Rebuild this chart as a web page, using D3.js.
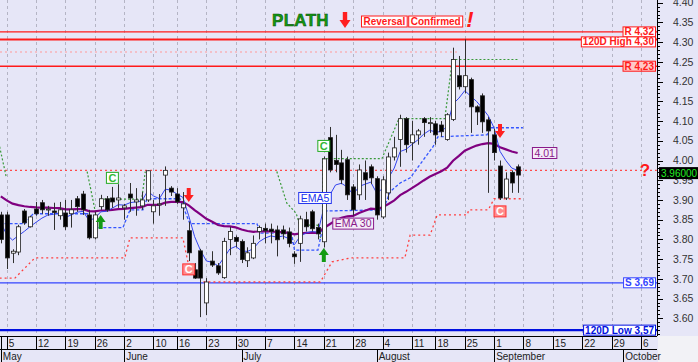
<!DOCTYPE html>
<html>
<head>
<meta charset="utf-8">
<script src="https://cdn.jsdelivr.net/npm/d3@7"></script>
<style>
  body { margin: 0; background: #e6e6f7; }
  svg { display: block; font-family: "Liberation Sans", Arial, sans-serif; }
</style>
</head>
<body>
<svg id="chart" width="698" height="362"></svg>
<script>
// ---- data ----
const firstDay = "2014-05-02";
const lastDay = "2014-10-10";
const holidays = ["2014-06-09", "2014-08-15"];

// daily candles from 2 May 2014 to 5 Sept 2014
const opens = [3.862, 3.862, 3.765, 3.768, 3.872, 3.832, 3.877, 3.893, 3.875, 3.872,
  3.860, 3.867, 3.865, 3.903, 3.915, 3.862, 3.804, 3.883, 3.903, 3.905,
  3.900, 3.880, 3.915, 3.895, 3.885, 3.900, 3.870, 3.890, 3.963, 3.930,
  3.915, 3.880, 3.822, 3.723, 3.771, 3.639, 3.745, 3.733, 3.703, 3.800,
  3.805, 3.795, 3.746, 3.753, 3.820, 3.828, 3.826, 3.824, 3.824, 3.819,
  3.763, 3.790, 3.850, 3.870, 3.830, 3.794, 4.058, 4.000, 3.994, 4.002,
  3.933, 3.913, 3.969, 3.984, 3.954, 3.857, 3.918, 4.009, 4.053, 4.106,
  4.045, 4.065, 4.106, 4.095, 4.093, 4.090, 4.053, 4.104, 4.215, 4.187,
  4.205, 4.136, 4.164, 4.103, 4.065, 3.986, 3.905, 3.970, 3.984];
const highs = [3.870, 3.870, 3.775, 3.837, 3.877, 3.860, 3.895, 3.900, 3.885, 3.893,
  3.895, 3.900, 3.900, 3.910, 3.923, 3.875, 3.870, 3.913, 3.910, 3.933,
  3.940, 3.890, 3.943, 3.930, 3.920, 3.975, 3.900, 3.915, 3.985, 3.935,
  3.930, 3.920, 3.845, 3.740, 3.776, 3.702, 3.770, 3.740, 3.804, 3.832,
  3.810, 3.800, 3.780, 3.810, 3.835, 3.840, 3.840, 3.835, 3.835, 3.830,
  3.770, 3.860, 3.870, 3.875, 3.840, 4.010, 4.085, 4.065, 4.027, 4.010,
  3.940, 3.990, 4.000, 3.990, 3.960, 3.960, 4.020, 4.060, 4.116, 4.110,
  4.100, 4.080, 4.110, 4.110, 4.100, 4.100, 4.120, 4.286, 4.265, 4.307,
  4.210, 4.140, 4.170, 4.110, 4.080, 4.000, 3.970, 3.975, 3.990];
const lows = [3.790, 3.725, 3.740, 3.760, 3.837, 3.830, 3.860, 3.865, 3.860, 3.824,
  3.850, 3.824, 3.830, 3.870, 3.862, 3.800, 3.800, 3.875, 3.870, 3.880,
  3.880, 3.850, 3.870, 3.860, 3.875, 3.895, 3.840, 3.860, 3.885, 3.910,
  3.890, 3.850, 3.745, 3.700, 3.603, 3.608, 3.730, 3.710, 3.700, 3.760,
  3.780, 3.740, 3.730, 3.750, 3.800, 3.790, 3.790, 3.757, 3.800, 3.780,
  3.738, 3.743, 3.820, 3.820, 3.800, 3.780, 3.970, 3.970, 3.940, 3.900,
  3.860, 3.900, 3.900, 3.940, 3.850, 3.852, 3.900, 4.000, 3.984, 4.020,
  4.000, 4.040, 4.060, 4.070, 4.040, 4.060, 4.050, 4.100, 4.180, 4.170,
  4.070, 4.090, 4.070, 3.918, 4.000, 3.900, 3.900, 3.918, 3.918];
const closes = [3.800, 3.753, 3.770, 3.832, 3.842, 3.857, 3.865, 3.875, 3.877, 3.868,
  3.875, 3.832, 3.875, 3.883, 3.875, 3.804, 3.862, 3.903, 3.875, 3.895,
  3.905, 3.885, 3.905, 3.900, 3.900, 3.974, 3.885, 3.890, 3.975, 3.920,
  3.895, 3.890, 3.766, 3.702, 3.702, 3.692, 3.735, 3.715, 3.795, 3.820,
  3.795, 3.749, 3.766, 3.790, 3.830, 3.822, 3.820, 3.799, 3.814, 3.790,
  3.756, 3.852, 3.832, 3.827, 3.814, 4.004, 3.976, 3.990, 3.951, 3.913,
  3.875, 3.976, 3.951, 3.956, 3.862, 3.951, 4.009, 4.032, 4.106, 4.040,
  4.065, 4.075, 4.096, 4.096, 4.065, 4.073, 4.116, 4.256, 4.187, 4.215,
  4.136, 4.123, 4.098, 4.075, 4.020, 3.905, 3.953, 3.943, 3.963];

// moving averages: periods and the values they show on the first day
const emaPeriods = [5, 30];
const emaStart = [3.842, 3.909];

// stop lines as [day index, price] vertices, several segments each
const blueStop = [[[-0.2, 3.840], [4.1, 3.840], [5.5, 3.865], [14.8, 3.865], [15.2, 3.830],
  [20.8, 3.830], [22.0, 3.875], [24.2, 3.875], [24.9, 3.903], [30.5, 3.903], [32.2, 3.840],
  [43.6, 3.840], [44.3, 3.816], [49.5, 3.816], [50.0, 3.773], [54.0, 3.773], [55.4, 3.872],
  [65.1, 3.875], [66.3, 3.921], [68.0, 3.943], [69.7, 3.956], [73.6, 4.035], [74.4, 4.060],
  [82.8, 4.065], [83.3, 4.083], [88.9, 4.083]]];
const redStop = [
  [[-0.2, 3.702], [2.4, 3.702], [5.8, 3.753], [21.1, 3.753], [22.0, 3.804], [31.0, 3.804], [31.9, 3.740]],
  [[34.5, 3.692], [54.4, 3.692], [56.4, 3.743], [59.5, 3.753], [68.8, 3.753], [69.7, 3.811],
   [73.1, 3.811], [74.3, 3.862], [79.4, 3.862], [79.7, 3.875], [83.0, 3.875], [84.0, 3.903], [88.9, 3.903]]];
const greenStop = [
  [[-0.2, 4.035], [0.9, 3.960]],
  [[14.7, 3.972], [16.3, 3.855]],
  [[16.9, 3.902], [24.0, 3.902], [24.6, 3.972]],
  [[47.0, 3.972], [48.7, 3.892], [50.3, 3.866], [50.9, 3.836], [53.9, 3.836], [54.5, 3.800]],
  [[54.8, 3.800], [54.8, 4.005], [64.9, 4.005], [67.8, 4.106], [75.6, 4.106], [76.9, 4.256], [88.1, 4.256]]];

// horizontal levels
const levelValues = [4.326, 4.307, 4.239, 3.690, 3.570];
const levelLabels = ["R 4,32", "120D High 4,30", "R 4,23", "S 3,69", "120D Low 3,57"];
const levelKinds = ["res", "high", "resFill", "sup", "low"];
const guideValues = [3.975, 4.275];
const guideEnd = [111.7, 78.2];

// signals
const upArrowIdx = [17, 55];
const upArrowTip = [3.862, 3.778];
const downArrowIdx = [32, 85];
const downArrowTip = [3.895, 4.057];
const confirmIdx = [19, 55, 32, 85];
const confirmPrice = [3.956, 4.037, 3.724, 3.871];
const confirmKind = ["buy", "buy", "sell", "sell"];

// tags
const tagTexts = ["EMA5", "EMA 30", "4.01"];
const tagIdx = [53.5, 60, 92.6];
const tagPrice = [3.905, 3.840, 4.019];
const tagKind = ["ema5", "ema30", "ema30"];

const lastPriceText = "3.96000";
const monthNames = ["January", "February", "March", "April", "May", "June", "July",
  "August", "September", "October", "November", "December"];

// ---- layout ----
const W = 698, H = 362;
const plotW = 657, plotH = 336;
const step = 5.873, firstX = 0.8;

const fmt = d3.timeFormat("%Y-%m-%d");
const parse = d3.timeParse("%Y-%m-%d");
const days = d3.timeDay.range(parse(firstDay), d3.timeDay.offset(parse(lastDay), 1))
  .filter((d) => d.getDay() !== 0 && d.getDay() !== 6 && !holidays.includes(fmt(d)));

const x = d3.scaleLinear()
  .domain([-firstX / step, (plotW - firstX) / step])
  .range([0, plotW]);
const y = d3.scaleLinear().domain([3.6, 4.4]).range([318.3, 2.7]);

const svg = d3.select("#chart");
svg.append("rect").attr("width", W).attr("height", H).attr("fill", "#e6e6f7");

// week and month boundaries
const weekIdx = [], monthIdx = [];
days.forEach((d, i) => {
  const p = days[i - 1];
  if (p && (d.getDay() < p.getDay() || d3.timeDay.count(p, d) > 6)) weekIdx.push(i);
  if (!p || d.getMonth() !== p.getMonth()) monthIdx.push(i);
});

// grid
svg.append("g")
  .selectAll("line")
  .data(weekIdx)
  .join("line")
  .attr("x1", (d) => Math.round(x(d)) + 0.5).attr("x2", (d) => Math.round(x(d)) + 0.5)
  .attr("y1", 0).attr("y2", plotH)
  .attr("stroke", "#b4b4c4")
  .attr("stroke-dasharray", "3,3");

const plot = svg.append("g");

// guide lines
plot.selectAll("line.guide")
  .data(guideValues)
  .join("line")
  .attr("class", "guide")
  .attr("x1", 0).attr("x2", (d, i) => Math.min(plotW, x(guideEnd[i])))
  .attr("y1", (d) => y(d)).attr("y2", (d) => y(d))
  .attr("stroke", (d, i) => (i === 0 ? "#ff4a4a" : "#ff9a9a"))
  .attr("stroke-width", 1.2)
  .attr("stroke-dasharray", "2,3");

// levels
const levelStyle = {
  res: { color: "#ff1a1a", width: 1.2, fill: "#fff" },
  high: { color: "#ff1a1a", width: 2, fill: "#fff" },
  resFill: { color: "#ff1a1a", width: 1.6, fill: "#ffc8c8" },
  sup: { color: "#3344ff", width: 1.2, fill: "#fff" },
  low: { color: "#0010e0", width: 2.4, fill: "#fff" },
};
plot.selectAll("line.level")
  .data(levelValues)
  .join("line")
  .attr("class", "level")
  .attr("x1", 0).attr("x2", plotW)
  .attr("y1", (d) => y(d)).attr("y2", (d) => y(d))
  .attr("stroke", (d, i) => levelStyle[levelKinds[i]].color)
  .attr("stroke-width", (d, i) => levelStyle[levelKinds[i]].width);

// stop lines
const line = d3.line().x((d) => x(d[0])).y((d) => y(d[1]));
function drawStops(segments, color, dash, width) {
  plot.append("g")
    .selectAll("path")
    .data(segments)
    .join("path")
    .attr("d", line)
    .attr("fill", "none")
    .attr("stroke", color)
    .attr("stroke-width", width)
    .attr("stroke-dasharray", dash);
}
drawStops(redStop, "#ff4040", "2,3", 1.3);
drawStops(greenStop, "#3a9a3a", "2,2", 1.2);
drawStops(blueStop, "#3355ff", "3,2", 1.3);

// moving averages
function ema(values, period, seed) {
  const k = 2 / (period + 1);
  let prev;
  return values.map((v, i) => {
    prev = i === 0 ? seed : prev + k * (v - prev);
    return prev;
  });
}
const emaLines = emaPeriods.map((p, j) => ema(closes, p, emaStart[j]));
const emaLine = d3.line().x((d, i) => x(i)).y((d) => y(d));
plot.append("path")
  .attr("d", emaLine(emaLines[1]))
  .attr("fill", "none")
  .attr("stroke", "#800080")
  .attr("stroke-width", 2.2);
plot.append("path")
  .attr("d", emaLine(emaLines[0]))
  .attr("fill", "none")
  .attr("stroke", "#3344ee")
  .attr("stroke-width", 1);

// candles
const candles = closes.map((c, i) => ({ i, o: opens[i], h: highs[i], l: lows[i], c }));
const cg = plot.append("g")
  .selectAll("g")
  .data(candles)
  .join("g");
cg.append("line")
  .attr("x1", (d) => Math.round(x(d.i)) + 0.5).attr("x2", (d) => Math.round(x(d.i)) + 0.5)
  .attr("y1", (d) => y(d.h)).attr("y2", (d) => y(d.l))
  .attr("stroke", "#303030");
cg.append("rect")
  .attr("x", (d) => Math.round(x(d.i)) - 1.5)
  .attr("width", 4)
  .attr("y", (d) => y(Math.max(d.o, d.c)))
  .attr("height", (d) => Math.max(1, Math.abs(y(d.o) - y(d.c))))
  .attr("fill", (d) => (d.c >= d.o ? "#fff" : "#000"))
  .attr("stroke", "#202020")
  .attr("stroke-width", 0.8);

// arrows
function arrowPath(cx, tipY, dir, w, h) {
  const hh = h * 0.5, sw = w * 0.2;
  const b = tipY + dir * h, m = tipY + dir * hh;
  return `M${cx},${tipY}L${cx + w / 2},${m}L${cx + sw},${m}L${cx + sw},${b}` +
    `L${cx - sw},${b}L${cx - sw},${m}L${cx - w / 2},${m}Z`;
}
plot.append("g")
  .selectAll("path")
  .data(upArrowIdx)
  .join("path")
  .attr("d", (d, i) => arrowPath(x(d), y(upArrowTip[i]), 1, 10, 14))
  .attr("fill", "#139a13");
plot.append("g")
  .selectAll("path")
  .data(downArrowIdx)
  .join("path")
  .attr("d", (d, i) => arrowPath(x(d), y(downArrowTip[i]), -1, 10, 14))
  .attr("fill", "#ff2020");

// boxed text: cx/cy is the centre of the box
function tag(g, cx, cy, text, o) {
  const t = g.append("g");
  const r = t.append("rect");
  const tx = t.append("text")
    .attr("font-size", o.size || 10)
    .attr("font-weight", o.weight || "bold")
    .attr("fill", o.color)
    .attr("text-anchor", "middle")
    .attr("x", cx)
    .attr("y", cy)
    .attr("dy", "0.36em")
    .text(text);
  const w = tx.node().getComputedTextLength() + (o.pad || 4);
  const h = o.h || 11;
  r.attr("x", cx - w / 2).attr("y", cy - h / 2).attr("width", w).attr("height", h)
    .attr("fill", o.fill || "#fff")
    .attr("stroke", o.stroke || o.color)
    .attr("stroke-width", 1);
  return w;
}
function textWidth(text, size, weight) {
  const t = svg.append("text").attr("font-size", size).attr("font-weight", weight).text(text);
  const w = t.node().getComputedTextLength();
  t.remove();
  return w;
}

// confirmation boxes
const confirmStyle = {
  buy: { color: "#33b833", stroke: "#22aa22", fill: "#ffffff" },
  sell: { color: "#ffffff", stroke: "#ff3030", fill: "#ff8c8c" },
};
confirmIdx.forEach((d, i) => {
  const s = confirmStyle[confirmKind[i]];
  tag(plot, x(d), y(confirmPrice[i]), "C",
    { color: s.color, stroke: s.stroke, fill: s.fill, h: 11, pad: 4, size: 11 });
});

// indicator tags
const tagStyle = {
  ema5: { color: "#2233ee", fill: "#ffffff" },
  ema30: { color: "#8a1a8a", fill: "#f4ecf8" },
};
tagTexts.forEach((t, i) => {
  const s = tagStyle[tagKind[i]];
  tag(plot, x(tagIdx[i]), y(tagPrice[i]), t,
    { color: s.color, fill: s.fill, weight: "normal", h: 11, pad: 4, size: 10.5 });
});

// level labels, right aligned, pushed down if they collide
let prevBottom = -Infinity;
levelValues
  .map((v, i) => i)
  .sort((a, b) => y(levelValues[a]) - y(levelValues[b]))
  .forEach((i) => {
    const s = levelStyle[levelKinds[i]];
    const w = textWidth(levelLabels[i], 10, "bold") + 3;
    let cy = y(levelValues[i]);
    if (cy - 5 < prevBottom) cy = prevBottom + 5;
    tag(plot, plotW - 1.5 - w / 2, cy, levelLabels[i],
      { color: s.color, fill: s.fill, h: 10, pad: 3 });
    prevBottom = cy + 5;
  });

// right axis
const axisG = svg.append("g");
axisG.append("line")
  .attr("x1", plotW + 0.5).attr("x2", plotW + 0.5)
  .attr("y1", 0).attr("y2", plotH)
  .attr("stroke", "#000");
const ticks = d3.range(356, 441).map((v) => v / 100);
axisG.selectAll("line.tick")
  .data(ticks)
  .join("line")
  .attr("class", "tick")
  .attr("x1", plotW).attr("x2", (d) => plotW + (Math.round(d * 100) % 5 === 0 ? 6 : 3))
  .attr("y1", (d) => Math.round(y(d)) + 0.5).attr("y2", (d) => Math.round(y(d)) + 0.5)
  .attr("stroke", "#000");
axisG.selectAll("text")
  .data(ticks.filter((d) => Math.round(d * 100) % 5 === 0 && d >= 3.6))
  .join("text")
  .attr("x", 673)
  .attr("y", (d) => y(d))
  .attr("dy", "0.35em")
  .attr("font-size", 10.5)
  .attr("fill", "#333")
  .text(d3.format(".2f"));

// last price and question mark
const lastY = y(closes[closes.length - 1]) - 2;
axisG.append("rect")
  .attr("x", 659).attr("y", lastY - 6).attr("width", 39).attr("height", 12)
  .attr("fill", "#000");
axisG.append("text")
  .attr("x", 661).attr("y", lastY).attr("dy", "0.36em")
  .attr("font-size", 10).attr("fill", "#22ee22")
  .text(lastPriceText);
axisG.append("text")
  .attr("x", 645).attr("y", y(guideValues[0]) + 6)
  .attr("text-anchor", "middle")
  .attr("font-size", 17).attr("font-weight", "bold")
  .attr("fill", "#ff1a1a")
  .text("?");

// bottom axis
const bx = svg.append("g");
bx.append("rect").attr("x", plotW + 1).attr("y", plotH).attr("width", W - plotW).attr("height", H - plotH)
  .attr("fill", "#f2f2f6");
[plotH + 0.5, 349.5].forEach((yy) => {
  bx.append("line").attr("x1", 0).attr("x2", plotW).attr("y1", yy).attr("y2", yy).attr("stroke", "#000");
});
bx.append("line").attr("x1", 1.5).attr("x2", 1.5).attr("y1", plotH).attr("y2", H).attr("stroke", "#000");
const weekG = bx.selectAll("g.wk")
  .data(weekIdx.filter((i) => x(i) < plotW - 5))
  .join("g")
  .attr("class", "wk");
weekG.append("line")
  .attr("x1", (d) => Math.round(x(d)) + 0.5).attr("x2", (d) => Math.round(x(d)) + 0.5)
  .attr("y1", plotH).attr("y2", 349)
  .attr("stroke", "#000");
weekG.append("text")
  .attr("x", (d) => x(d) + 2).attr("y", 346.5)
  .attr("font-size", 10).attr("fill", "#222")
  .text((d) => days[d].getDate());
const monthG = bx.selectAll("g.mo")
  .data(monthIdx.filter((i) => x(i) < plotW))
  .join("g")
  .attr("class", "mo");
monthG.append("line")
  .attr("x1", (d) => Math.max(1.5, Math.round(x(d)) + 0.5)).attr("x2", (d) => Math.max(1.5, Math.round(x(d)) + 0.5))
  .attr("y1", 349).attr("y2", H)
  .attr("stroke", "#000");
monthG.append("text")
  .attr("x", (d) => Math.max(2, x(d) + 2)).attr("y", 359.5)
  .attr("font-size", 10).attr("fill", "#222")
  .text((d) => monthNames[days[d].getMonth()]);

// header
const hd = svg.append("g");
hd.append("text")
  .attr("x", 272).attr("y", 25.5)
  .attr("font-size", 17).attr("font-weight", "bold")
  .attr("fill", "#129a12").attr("stroke", "#0a4a0a").attr("stroke-width", 0.5)
  .attr("letter-spacing", 0.3)
  .text("PLATH");
hd.append("path").attr("d", arrowPath(345, 28, -1, 11, 16)).attr("fill", "#ff2020");
let hx = 361.5;
["Reversal", "Confirmed"].forEach((t) => {
  const w = textWidth(t, 10, "bold") + 4;
  tag(hd, hx + w / 2, 21.5, t, { color: "#ff1a1a", h: 11, pad: 4, size: 10 });
  hx += w + 1.5;
});
hd.append("text")
  .attr("x", 470).attr("y", 27)
  .attr("text-anchor", "middle")
  .attr("font-size", 22).attr("font-weight", "bold").attr("font-style", "italic")
  .attr("fill", "#ff1a1a")
  .text("!");
</script>
</body>
</html>
